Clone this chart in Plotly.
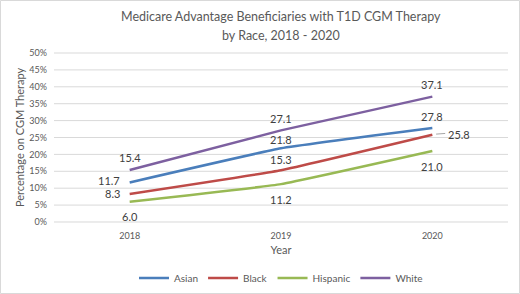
import plotly.graph_objects as go

years = ["2018", "2019", "2020"]
asian = [11.7, 21.8, 27.8]
black = [8.3, 15.3, 25.8]
hispanic = [6.0, 11.2, 21.0]
white = [15.4, 27.1, 37.1]
series_names = ["Asian", "Black", "Hispanic", "White"]
y_ticks = [0, 5, 10, 15, 20, 25, 30, 35, 40, 45, 50]
y_tick_labels = ["0%", "5%", "10%", "15%", "20%", "25%", "30%", "35%", "40%", "45%", "50%"]
title_lines = ["Medicare Advantage Beneficiaries with T1D CGM Therapy", "by Race, 2018 - 2020"]

colors = {"Asian": "#4a7ebb", "Black": "#be4b48", "Hispanic": "#98b954", "White": "#7d60a0"}
data = {"Asian": asian, "Black": black, "Hispanic": hispanic, "White": white}
xpos = list(range(len(years)))  # category index positions
x_lo, x_hi = xpos[0] - 0.5, xpos[-1] + 0.5

FONT = "Lato"
TXT = "#404040"
GREY = "#595959"

# label placement per series / point: (xanchor, xshift, yshift)
place = {
    "Asian": [("right", -8, 2), ("center", 0, 9), ("center", 0, 12)],
    "Black": [("right", -8, 0), ("center", 0, 11), ("left", 14, 0)],
    "Hispanic": [("center", 0, -15), ("center", 0, -15), ("center", 0, -15)],
    "White": [("center", 0, 12), ("center", 0, 12), ("center", 0, 12)],
}

L, R, T, B = 54, 12, 52, 71
W, H = 520, 294
pw, ph = W - L - R, H - T - B

fig = go.Figure()

# horizontal gridlines as a single background line trace at the tick values
gx, gy = [], []
for v in y_ticks:
    gx += [x_lo, x_hi, None]
    gy += [v, v, None]
fig.add_trace(go.Scatter(
    x=gx, y=gy, mode="lines", line=dict(color="#d9d9d9", width=1),
    showlegend=False, hoverinfo="skip", cliponaxis=False,
))

for name in series_names:
    fig.add_trace(go.Scatter(
        x=xpos, y=data[name], mode="lines", name=name,
        line=dict(color=colors[name], width=2.5, shape="spline", smoothing=0.3),
        hoverinfo="skip",
    ))

annotations = []
for name in series_names:
    for i, (xv, yv) in enumerate(zip(xpos, data[name])):
        xa, dx, dy = place[name][i]
        annotations.append(dict(
            x=xv, y=yv, xref="x", yref="y", text=f"{yv:.1f}", showarrow=False,
            xanchor=xa, yanchor="middle", xshift=dx, yshift=dy,
            font=dict(family=FONT, size=11, color=TXT),
        ))
# title lines
for py, line in zip([16.5, 35.0], title_lines):
    annotations.append(dict(
        x=0.5, y=(ph + T - py) / ph, xref="paper", yref="paper", text=line,
        showarrow=False, xanchor="center", yanchor="middle",
        font=dict(family=FONT, size=12.5, color=GREY),
    ))

shapes = [
    # leader line for Black 2020 label
    dict(type="line", xref="x", yref="y", x0=xpos[2] + 0.025, x1=xpos[2] + 0.085,
         y0=black[2] + 0.2, y1=black[2] + 0.4, line=dict(color="#a6a6a6", width=1)),
    # chart border
    dict(type="rect", xref="paper", yref="paper",
         x0=(0.5 - L) / pw, x1=(W - 0.5 - L) / pw,
         y0=(ph + T - (H - 0.5)) / ph, y1=(ph + T - 0.5) / ph,
         line=dict(color="#d9d9d9", width=1), fillcolor="rgba(0,0,0,0)"),
]

fig.update_layout(
    template="none",
    width=W, height=H,
    margin=dict(l=L, r=R, t=T, b=B, autoexpand=False),
    paper_bgcolor="white", plot_bgcolor="white",
    font=dict(family=FONT, color=GREY),
    xaxis=dict(range=[x_lo, x_hi], tickmode="array", tickvals=xpos, ticktext=years,
               showgrid=False, zeroline=False, showline=False, ticks="",
               tickfont=dict(size=9, color=GREY), ticklabelstandoff=6,
               title=dict(text="Year", font=dict(size=11, color=GREY), standoff=6)),
    yaxis=dict(range=[-0.3, 50.3], tickmode="array", tickvals=y_ticks, ticktext=y_tick_labels,
               showgrid=False, zeroline=False, showline=False,
               tickfont=dict(size=9, color=GREY), ticks="", ticklabelstandoff=6,
               title=dict(text="Percentage on CGM Therapy", font=dict(size=11, color=GREY), standoff=2)),
    legend=dict(orientation="h", x=0.5, xanchor="center", y=(T + ph - 278) / ph, yanchor="middle",
                font=dict(family=FONT, size=10, color=GREY), itemwidth=30,
                traceorder="normal"),
    annotations=annotations,
    shapes=shapes,
    showlegend=True,
)

fig.write_html("out.html", config={"displayModeBar": False},
               post_script="document.body.style.margin='0';")
